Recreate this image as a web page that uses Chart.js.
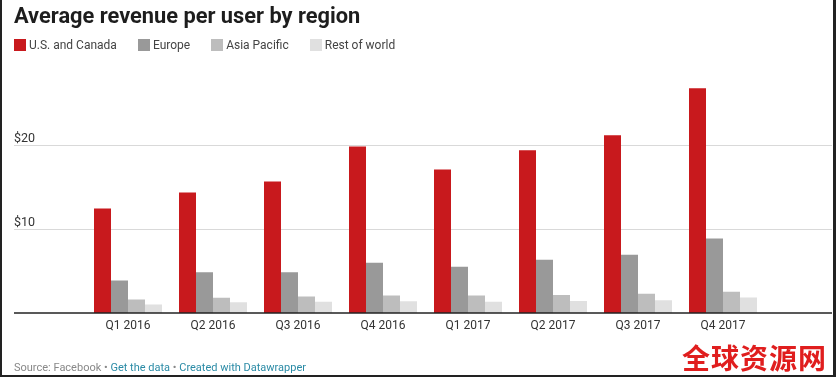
<!DOCTYPE html>
<html lang="en">
<head>
    <meta charset="UTF-8">
    <title>Average revenue per user by region</title>
    <style>
        body {
            margin: 0;
            padding: 0;
            background: #fff;
            font-family: Roboto, Arial, sans-serif;
            color: #333;
        }

        .frame {
            position: relative;
            width: 839px;
            height: 379px;
            overflow: hidden;
        }

        .border {
            position: absolute;
            left: 0;
            top: -4px;
            width: 831px;
            height: 379px;
            border-left: 2px solid #222;
            border-right: 3px solid #222;
            border-bottom: 2px solid #222;
            pointer-events: none;
        }

        canvas {
            position: absolute;
            left: 0;
            top: 0;
        }

        h1 {
            position: absolute;
            left: 14px;
            top: 3px;
            margin: 0;
            font-size: 21.8px;
            font-weight: 700;
            color: #1d1d1d;
        }

        .legend {
            position: absolute;
            left: 14px;
            top: 38px;
            display: flex;
            font-size: 12px;
            color: #444;
        }

        .legend span {
            display: flex;
            align-items: center;
            margin-right: 21px;
        }

        .legend i {
            display: inline-block;
            width: 12px;
            height: 12px;
            margin-right: 3px;
        }

        .footer {
            position: absolute;
            left: 14px;
            top: 361px;
            font-size: 11px;
            color: #888;
        }

        .footer a {
            color: #2b8ba6;
            text-decoration: none;
        }

        .mark {
            position: absolute;
            left: 682px;
            top: 337px;
            font-family: "Noto Sans CJK SC", sans-serif;
            font-weight: 700;
            font-size: 28px;
            letter-spacing: 1px;
            color: #e01e1e;
        }
    </style>
</head>
<body>
<div class="frame">
    <canvas id="chart" width="839" height="379"></canvas>
    <h1>Average revenue per user by region</h1>
    <div class="legend" id="legend"></div>
    <div class="footer">Source: Facebook &bull; <a href="#">Get the data</a> &bull; <a href="#">Created with Datawrapper</a></div>
    <div class="mark">全球资源网</div>
    <div class="border"></div>
</div>

<script src="https://cdn.jsdelivr.net/npm/chart.js"></script>
<script>
    // quarters
    const quarters = ['Q1 2016', 'Q2 2016', 'Q3 2016', 'Q4 2016', 'Q1 2017', 'Q2 2017', 'Q3 2017', 'Q4 2017'];

    // ARPU in dollars
    const usCanada = [12.43, 14.34, 15.65, 19.81, 17.07, 19.38, 21.15, 26.76];
    const europe = [3.88, 4.85, 4.84, 5.98, 5.52, 6.33, 6.93, 8.86];
    const asiaPacific = [1.60, 1.82, 1.95, 2.07, 2.08, 2.15, 2.28, 2.54];
    const restOfWorld = [1.00, 1.27, 1.33, 1.41, 1.34, 1.42, 1.52, 1.86];

    const seriesNames = ['U.S. and Canada', 'Europe', 'Asia Pacific', 'Rest of world'];
    const seriesColors = ['#c8191d', '#999999', '#bdbdbd', '#e0e0e0'];

    // y gridlines and their labels
    const yTicks = [10, 20];
    const yTickLabels = ['$10', '$20'];

    // legend in html
    const legend = document.getElementById('legend');
    seriesNames.forEach((name, i) => {
        const item = document.createElement('span');
        const box = document.createElement('i');
        box.style.background = seriesColors[i];
        item.appendChild(box);
        item.appendChild(document.createTextNode(name));
        legend.appendChild(item);
    });

    // gridlines run wider than the bars, so draw them here
    const gridPlugin = {
        id: 'dwGrid',
        beforeDatasetsDraw(chart) {
            const ctx = chart.ctx;
            const y = chart.scales.y;
            ctx.save();
            ctx.strokeStyle = '#d9d9d9';
            ctx.lineWidth = 1;
            ctx.fillStyle = '#333';
            ctx.font = '12.5px Roboto, Arial, sans-serif';
            ctx.textBaseline = 'alphabetic';
            yTicks.forEach((v, i) => {
                const py = Math.round(y.getPixelForValue(v)) + 0.5;
                ctx.beginPath();
                ctx.moveTo(14, py);
                ctx.lineTo(832, py);
                ctx.stroke();
                ctx.fillText(yTickLabels[i], 14, py - 4);
            });
            ctx.restore();
        },
        afterDatasetsDraw(chart) {
            const ctx = chart.ctx;
            const py = chart.scales.y.getPixelForValue(0);
            ctx.save();
            ctx.strokeStyle = '#222';
            ctx.lineWidth = 1.5;
            ctx.beginPath();
            ctx.moveTo(14, py);
            ctx.lineTo(832, py);
            ctx.stroke();
            ctx.restore();
        }
    };

    const allSeries = [usCanada, europe, asiaPacific, restOfWorld];

    new Chart(document.getElementById('chart').getContext('2d'), {
        type: 'bar',
        data: {
            labels: quarters,
            datasets: allSeries.map((values, i) => ({
                label: seriesNames[i],
                data: values,
                backgroundColor: seriesColors[i],
                borderWidth: 0,
                categoryPercentage: 0.8,
                barPercentage: 1.0
            }))
        },
        options: {
            responsive: false,
            animation: false,
            layout: {
                padding: { left: 85.5, right: 73.5, top: 61, bottom: 36 }
            },
            plugins: {
                legend: { display: false },
                title: { display: false },
                tooltip: { enabled: false }
            },
            scales: {
                x: {
                    grid: { display: false, drawTicks: false },
                    border: { display: false },
                    ticks: {
                        color: '#333',
                        font: { family: 'Roboto', size: 12 },
                        padding: 6,
                        maxRotation: 0
                    },
                    afterFit(scale) { scale.height = 30; }
                },
                y: {
                    display: false,
                    min: 0,
                    max: 30
                }
            }
        },
        plugins: [gridPlugin]
    });
</script>
</body>
</html>
